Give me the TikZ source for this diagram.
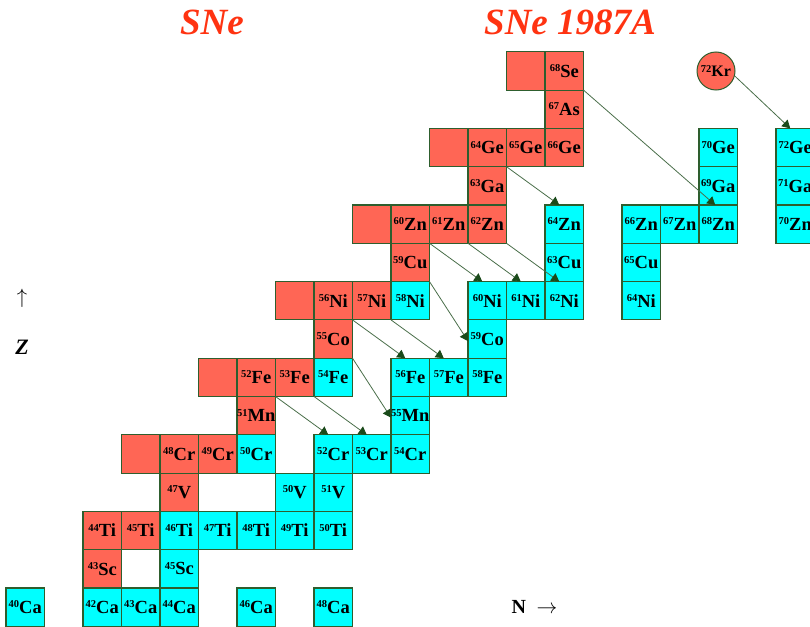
\documentclass[tikz,border=0pt]{standalone}
\usepackage{fontspec}
\setmainfont{Liberation Serif}
\usetikzlibrary{arrows.meta}
\definecolor{rc}{HTML}{FF6655}
\definecolor{cc}{HTML}{00FFFF}
\definecolor{bd}{HTML}{2E5E2E}
\definecolor{ln}{HTML}{4A6E4A}
\definecolor{hd}{HTML}{1A4A1A}
\definecolor{tt}{HTML}{FF3311}
\newcommand\lab[2]{\raisebox{0.3em}{\fontsize{10.5}{10.5}\selectfont #1}#2}
\newcommand\iso[5]{\node[cellbox,fill=#4] (#1) at ({25.25+(#2-20)*38.5},{607.15-(#3-20)*38.3}) {#5};}
\begin{document}
\begin{tikzpicture}[x=1pt,y=-1pt,
  cellbox/.style={draw=bd,line width=1.1pt,minimum width=38.5pt,minimum height=38.3pt,inner sep=0pt,outer sep=0pt,font=\fontsize{18.5}{18.5}\selectfont\bfseries},
  arr/.style={draw=ln,line width=0.8pt,-{Triangle[length=8pt,width=9pt,fill=hd,color=hd]}},
  title/.style={text=tt,font=\fontsize{37}{37}\selectfont\bfseries\itshape}]
\useasboundingbox (0,0) rectangle (810,626);
% titles
\node[title] (t1) at (212,22) {SNe};
\node[title] (t2) at (570,22) {SNe 1987A};
% red cells
\iso{b3334}{33}{34}{rc}{}
\iso{Se68}{34}{34}{rc}{\lab{68}{Se}}
\iso{As67}{34}{33}{rc}{\lab{67}{As}}
\iso{b3132}{31}{32}{rc}{}
\iso{Ge64}{32}{32}{rc}{\lab{64}{Ge}}
\iso{Ge65}{33}{32}{rc}{\lab{65}{Ge}}
\iso{Ge66}{34}{32}{rc}{\lab{66}{Ge}}
\iso{Ga63}{32}{31}{rc}{\lab{63}{Ga}}
\iso{b2930}{29}{30}{rc}{}
\iso{Zn60}{30}{30}{rc}{\lab{60}{Zn}}
\iso{Zn61}{31}{30}{rc}{\lab{61}{Zn}}
\iso{Zn62}{32}{30}{rc}{\lab{62}{Zn}}
\iso{Cu59}{30}{29}{rc}{\lab{59}{Cu}}
\iso{b2728}{27}{28}{rc}{}
\iso{Ni56}{28}{28}{rc}{\lab{56}{Ni}}
\iso{Ni57}{29}{28}{rc}{\lab{57}{Ni}}
\iso{Co55}{28}{27}{rc}{\lab{55}{Co}}
\iso{b2526}{25}{26}{rc}{}
\iso{Fe52}{26}{26}{rc}{\lab{52}{Fe}}
\iso{Fe53}{27}{26}{rc}{\lab{53}{Fe}}
\iso{Mn51}{26}{25}{rc}{\lab{51}{Mn}}
\iso{b2324}{23}{24}{rc}{}
\iso{Cr48}{24}{24}{rc}{\lab{48}{Cr}}
\iso{Cr49}{25}{24}{rc}{\lab{49}{Cr}}
\iso{V47}{24}{23}{rc}{\lab{47}{V}}
\iso{Ti44}{22}{22}{rc}{\lab{44}{Ti}}
\iso{Ti45}{23}{22}{rc}{\lab{45}{Ti}}
\iso{Sc43}{22}{21}{rc}{\lab{43}{Sc}}
% cyan cells
\iso{Ge70}{38}{32}{cc}{\lab{70}{Ge}}
\iso{Ge72}{40}{32}{cc}{\lab{72}{Ge}}
\iso{Ga69}{38}{31}{cc}{\lab{69}{Ga}}
\iso{Ga71}{40}{31}{cc}{\lab{71}{Ga}}
\iso{Zn64}{34}{30}{cc}{\lab{64}{Zn}}
\iso{Zn66}{36}{30}{cc}{\lab{66}{Zn}}
\iso{Zn67}{37}{30}{cc}{\lab{67}{Zn}}
\iso{Zn68}{38}{30}{cc}{\lab{68}{Zn}}
\iso{Zn70}{40}{30}{cc}{\lab{70}{Zn}}
\iso{Cu63}{34}{29}{cc}{\lab{63}{Cu}}
\iso{Cu65}{36}{29}{cc}{\lab{65}{Cu}}
\iso{Ni58}{30}{28}{cc}{\lab{58}{Ni}}
\iso{Ni60}{32}{28}{cc}{\lab{60}{Ni}}
\iso{Ni61}{33}{28}{cc}{\lab{61}{Ni}}
\iso{Ni62}{34}{28}{cc}{\lab{62}{Ni}}
\iso{Ni64}{36}{28}{cc}{\lab{64}{Ni}}
\iso{Co59}{32}{27}{cc}{\lab{59}{Co}}
\iso{Fe54}{28}{26}{cc}{\lab{54}{Fe}}
\iso{Fe56}{30}{26}{cc}{\lab{56}{Fe}}
\iso{Fe57}{31}{26}{cc}{\lab{57}{Fe}}
\iso{Fe58}{32}{26}{cc}{\lab{58}{Fe}}
\iso{Mn55}{30}{25}{cc}{\lab{55}{Mn}}
\iso{Cr50}{26}{24}{cc}{\lab{50}{Cr}}
\iso{Cr52}{28}{24}{cc}{\lab{52}{Cr}}
\iso{Cr53}{29}{24}{cc}{\lab{53}{Cr}}
\iso{Cr54}{30}{24}{cc}{\lab{54}{Cr}}
\iso{V50}{27}{23}{cc}{\lab{50}{V}}
\iso{V51}{28}{23}{cc}{\lab{51}{V}}
\iso{Ti46}{24}{22}{cc}{\lab{46}{Ti}}
\iso{Ti47}{25}{22}{cc}{\lab{47}{Ti}}
\iso{Ti48}{26}{22}{cc}{\lab{48}{Ti}}
\iso{Ti49}{27}{22}{cc}{\lab{49}{Ti}}
\iso{Ti50}{28}{22}{cc}{\lab{50}{Ti}}
\iso{Sc45}{24}{21}{cc}{\lab{45}{Sc}}
\iso{Ca40}{20}{20}{cc}{\lab{40}{Ca}}
\iso{Ca42}{22}{20}{cc}{\lab{42}{Ca}}
\iso{Ca43}{23}{20}{cc}{\lab{43}{Ca}}
\iso{Ca44}{24}{20}{cc}{\lab{44}{Ca}}
\iso{Ca46}{26}{20}{cc}{\lab{46}{Ca}}
\iso{Ca48}{28}{20}{cc}{\lab{48}{Ca}}
% Kr circle
\node[circle,draw=bd,line width=1pt,fill=rc,minimum size=38pt,inner sep=0pt,font=\fontsize{16}{16}\selectfont\bfseries] (Kr72) at (716,71) {\lab{72}{Kr}};
% axis labels
\node[font=\fontsize{22}{22}\selectfont] (zarrow) at (22,298) {$\uparrow$};
\node[font=\fontsize{22}{22}\selectfont\bfseries\itshape] (zlab) at (22,347) {Z};
\node[font=\fontsize{20}{20}\selectfont\bfseries,anchor=west] (nlab) at (508,607) {N\; $\rightarrow$};
% arrows
\draw[arr] (Se68.south east) -- ([xshift=-3pt]Zn68.north);
\draw[arr] (Kr72.-15) -- ([xshift=-5pt]Ge72.north);
\draw[arr] (Ge64.south east) -- ([xshift=-5pt]Zn64.north);
\draw[arr] (Zn60.south east) -- ([xshift=-5pt]Ni60.north);
\draw[arr] (Zn61.south east) -- ([xshift=-5pt]Ni61.north);
\draw[arr] (Zn62.south east) -- ([xshift=-5pt]Ni62.north);
\draw[arr] (Cu59.south east) -- ([yshift=-2pt]Co59.west);
\draw[arr] (Ni56.south east) -- ([xshift=-5pt]Fe56.north);
\draw[arr] (Ni57.south east) -- ([xshift=-5pt]Fe57.north);
\draw[arr] (Co55.south east) -- ([yshift=-2pt]Mn55.west);
\draw[arr] (Fe52.south east) -- ([xshift=-5pt]Cr52.north);
\draw[arr] (Fe53.south east) -- ([xshift=-5pt]Cr53.north);
\end{tikzpicture}
\end{document}
